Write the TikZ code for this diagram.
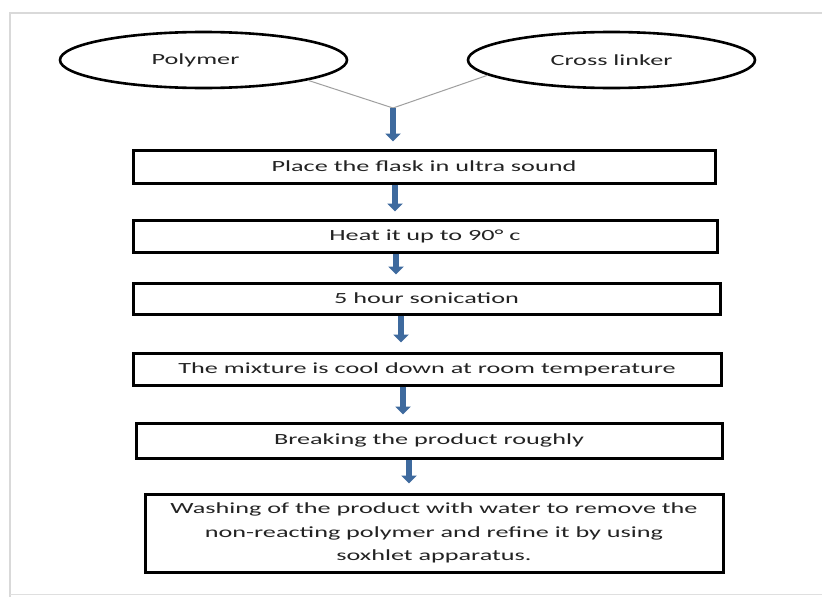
\documentclass[tikz,border=0pt]{standalone}
\usepackage{fontspec}
\setmainfont{Carlito}[FakeStretch=1.69]
\usetikzlibrary{shapes.geometric,arrows.meta}
\definecolor{flowblue}{RGB}{62,106,158}
\definecolor{txt}{RGB}{35,35,35}
\begin{document}
\begin{tikzpicture}[x=1pt,y=-1pt,
  every node/.style={font=\fontsize{15.5}{23.5}\selectfont, text=txt},
  oval/.style={ellipse, draw=black, line width=2.6pt, minimum width=287pt, minimum height=56pt, inner sep=0pt},
  stepbox/.style={rectangle, draw=black, line width=3pt, inner sep=0pt, align=center},
  link/.style={draw=gray!75, line width=1pt},
  flow/.style={draw=flowblue, line width=6pt, -{Triangle[width=15pt,length=8pt]}, shorten >=7pt},
  frame/.style={draw=gray!30, line width=1.5pt}
]
\useasboundingbox[fill=white] (0,0) rectangle (822,597);
% page frame
\draw[frame] (822,13) -- (10,13) -- (10,597);
\draw[draw=gray!25, line width=1pt] (10,594) -- (822,594);

% inputs
\node[oval] (poly) at (203.5,60) {Polymer\hspace*{16pt}};
\node[oval] (cross) at (611.5,60) {Cross linker};
\coordinate (junc) at (393,108);
\draw[link] (poly.349) -- (junc);
\draw[link] (cross.187) -- (junc);

% steps
\node[stepbox, minimum width=582pt, minimum height=33pt] (b1) at (424,166.5) {Place the flask in ultra sound};
\node[stepbox, minimum width=584pt, minimum height=32pt] (b2) at (425,236) {Heat it up to 90° c};
\node[stepbox, minimum width=587pt, minimum height=31pt] (b3) at (426.5,298.5) {5 hour sonication};
\node[stepbox, minimum width=588pt, minimum height=32pt] (b4) at (427,369) {The mixture is cool down at room temperature};
\node[stepbox, minimum width=586pt, minimum height=35pt] (b5) at (429,440.5) {Breaking the product roughly};
\node[stepbox, minimum width=578pt, minimum height=78pt] (b6) at (434,533) {Washing of the product with water to remove the\\non-reacting polymer and refine it by using\\soxhlet apparatus.};

% arrow columns
\coordinate (x2) at (395,0);
\coordinate (x3) at (396,0);
\coordinate (x4) at (401,0);
\coordinate (x5) at (403,0);
\coordinate (x6) at (409,0);

\draw[flow] (junc) -- (b1.north -| junc);
\draw[flow] (b1.south -| x2) -- (b2.north -| x2);
\draw[flow] (b2.south -| x3) -- (b3.north -| x3);
\draw[flow, shorten >=9pt] (b3.south -| x4) -- (b4.north -| x4);
\draw[flow] (b4.south -| x5) -- (b5.north -| x5);
\draw[flow, shorten >=9pt] (b5.south -| x6) -- (b6.north -| x6);
\end{tikzpicture}
\end{document}
